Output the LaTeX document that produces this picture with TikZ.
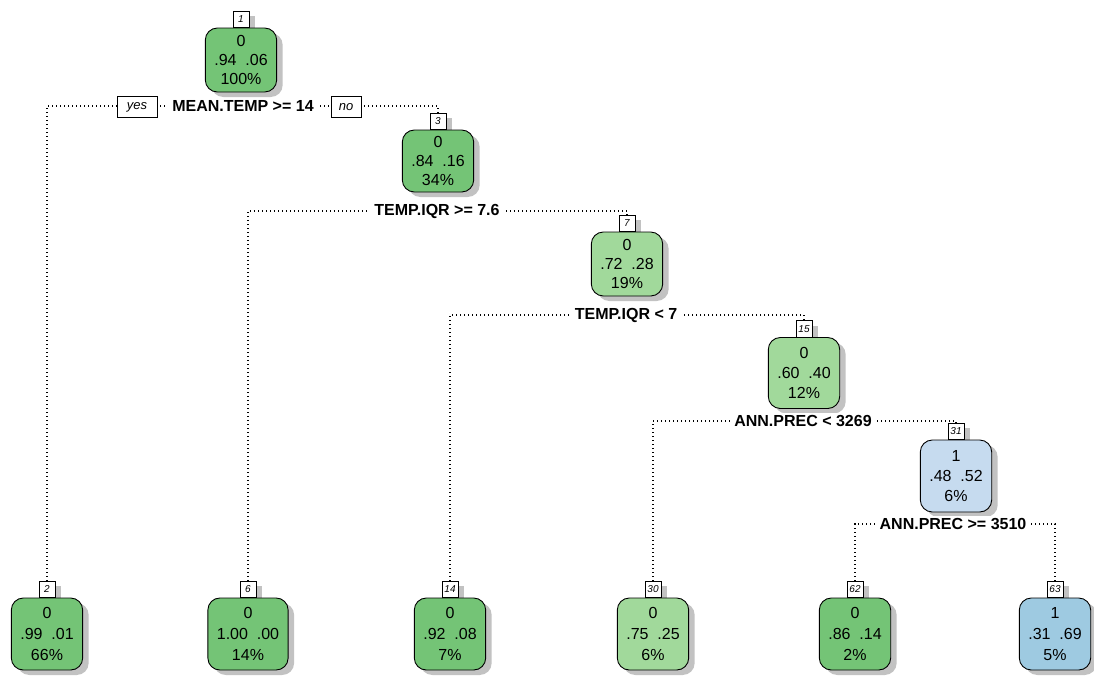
\documentclass[tikz,border=0pt]{standalone}
\usepackage{fontspec}
\setmainfont{Liberation Sans}
\usetikzlibrary{shadows}
\definecolor{gA}{HTML}{74C476}
\definecolor{gB}{HTML}{A1D99B}
\definecolor{bA}{HTML}{C6DBEF}
\definecolor{bB}{HTML}{9ECAE1}
\tikzset{
 shad/.style={drop shadow={shadow xshift=6pt, shadow yshift=-5pt, fill=black!24, opacity=1}},
 tnode/.style={draw=black, line width=0.9pt, rounded corners=12pt, inner xsep=9pt, inner ysep=0pt, align=center, minimum width=70pt, shad},
 inode/.style={tnode, minimum height=64pt, font=\fontsize{16}{19}\selectfont},
 leaf/.style={tnode, minimum height=72pt, font=\fontsize{16}{21}\selectfont},
 num/.style={draw=black, line width=0.8pt, fill=white, anchor=south, minimum height=16.5pt, minimum width=16pt, inner sep=1.5pt, font=\fontsize{10}{10}\selectfont\itshape, shad},
 split/.style={fill=white, inner xsep=4pt, inner ysep=2pt, font=\fontsize{16}{16}\selectfont\bfseries},
 dots/.style={line width=1.1pt, dash pattern=on 1.1pt off 2.9pt},
 yn/.style={draw=black, line width=0.8pt, fill=white, minimum height=21pt, inner xsep=4pt, font=\fontsize{13}{13}\selectfont\itshape},
}
\begin{document}
\begin{tikzpicture}[x=1pt,y=-1pt]
\useasboundingbox[fill=white] (0,0) rectangle (1094,675);
% number labels (drawn first so node bodies cover their shadows)
\node[num] (l1) at (241,28) {1};
\node[num] (l3) at (438,130) {3};
\node[num] (l7) at (627,232) {7};
\node[num] (l15) at (804,337.5) {15};
\node[num] (l31) at (956,440) {31};
\node[num] (l2) at (47,598) {2};
\node[num] (l6) at (248,598) {6};
\node[num] (l14) at (450,598) {14};
\node[num] (l30) at (653,598) {30};
\node[num] (l62) at (855,598) {62};
\node[num] (l63) at (1055,598) {63};
% tree nodes
\node[inode, fill=gA] (n1) at (241,60) {0\\.94\ \ .06\\100\%};
\node[inode, fill=gA, minimum height=62pt] (n3) at (438,161) {0\\.84\ \ .16\\34\%};
\node[inode, fill=gB] (n7) at (627,264) {0\\.72\ \ .28\\19\%};
\node[inode, fill=gB, minimum height=71pt, font=\fontsize{16}{20}\selectfont] (n15) at (804,373) {0\\.60\ \ .40\\12\%};
\node[inode, fill=bA, minimum height=72pt, font=\fontsize{16}{20}\selectfont] (n31) at (956,476) {1\\.48\ \ .52\\6\%};
\node[leaf, fill=gA] (n2) at (47,634) {0\\.99\ \ .01\\66\%};
\node[leaf, fill=gA] (n6) at (248,634) {0\\1.00\ \ .00\\14\%};
\node[leaf, fill=gA] (n14) at (450,634) {0\\.92\ \ .08\\7\%};
\node[leaf, fill=gB] (n30) at (653,634) {0\\.75\ \ .25\\6\%};
\node[leaf, fill=gA] (n62) at (855,634) {0\\.86\ \ .14\\2\%};
\node[leaf, fill=bB] (n63) at (1055,634) {1\\.31\ \ .69\\5\%};
% split labels
\node[split] (s1) at (243,106) {MEAN.TEMP >= 14};
\node[split] (s2) at (437,211) {TEMP.IQR >= 7.6};
\node[split] (s3) at (626,315) {TEMP.IQR < 7};
\node[split] (s4) at (803,421) {ANN.PREC < 3269};
\node[split] (s5) at (953,524) {ANN.PREC >= 3510};
% connectors
\draw[dots] (l2.north) |- (s1.west);
\draw[dots] (l3.north) |- (s1.east);
\draw[dots] (l6.north) |- (s2.west);
\draw[dots] (l7.north) |- (s2.east);
\draw[dots] (l14.north) |- (s3.west);
\draw[dots] (l15.north) |- (s3.east);
\draw[dots] (l30.north) |- (s4.west);
\draw[dots] (l31.north) |- (s4.east);
\draw[dots] (l62.north) |- (s5.west);
\draw[dots] (l63.north) |- (s5.east);
% yes / no
\node[yn, minimum width=40pt] (yes) at (137,107) {yes};
\node[yn, minimum width=30pt] (no) at (346,107) {no};
\end{tikzpicture}
\end{document}
